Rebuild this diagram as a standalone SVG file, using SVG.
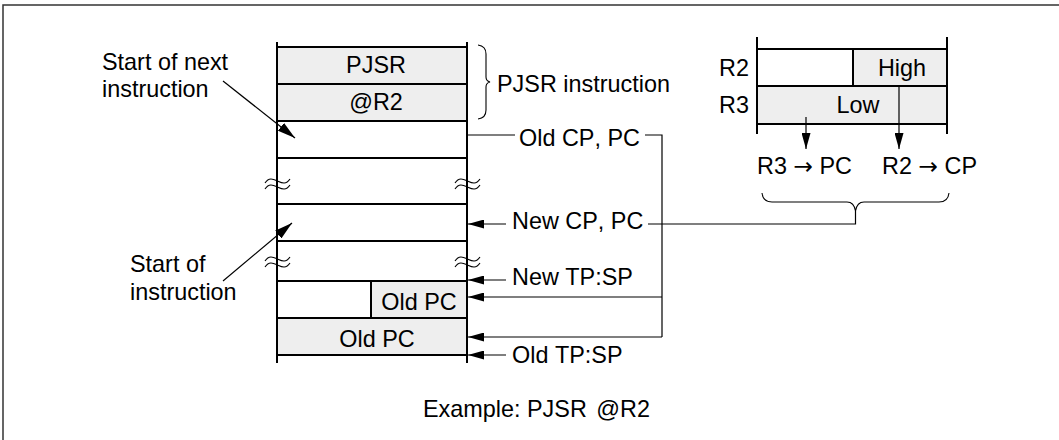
<svg xmlns="http://www.w3.org/2000/svg" width="1059" height="440" viewBox="0 0 1059 440">
  <style>
    text { font-family: "Liberation Sans", Arial, sans-serif; font-size: 23.4px; fill: #000; font-kerning: none; }
    .arrowglyph { font-family: "DejaVu Sans", sans-serif; }
    .mid { text-anchor: middle; }
    .end { text-anchor: end; }
    .gray { fill: #eeeeee; }
    .thick { stroke: #000; stroke-width: 2; fill: none; }
    .thin { stroke: #000; stroke-width: 1.2; fill: none; }
    .brace { stroke: #000; stroke-width: 1.1; fill: none; }
    .arr { marker-end: url(#ah); }
    .arrd { marker-end: url(#ahBig); }
  </style>
  <defs>
    <marker id="ah" markerUnits="userSpaceOnUse" viewBox="0 0 16 9" refX="16" refY="4.5" markerWidth="16" markerHeight="9" orient="auto">
      <path d="M0,0 L16,4.5 L0,9 z" fill="#000"/>
    </marker>
    <marker id="ahBig" markerUnits="userSpaceOnUse" viewBox="0 0 18 10" refX="18" refY="5" markerWidth="18" markerHeight="10" orient="auto">
      <path d="M0,0 L18,5 L0,10 z" fill="#000"/>
    </marker>
  </defs>
  <rect width="1059" height="440" fill="#ffffff"/>
  <path d="M3,440 L3,5 L1059,5" stroke="#333" stroke-width="1.5" fill="none"/>

  <!-- Memory stack -->
  <g id="stack">
    <rect class="gray" x="277" y="47" width="190" height="37"/>
    <rect class="gray" x="277" y="84" width="190" height="37"/>
    <rect class="gray" x="371" y="281" width="96" height="37"/>
    <rect class="gray" x="277" y="318" width="190" height="37"/>
    <g class="thick">
      <path d="M277,42 V363 M467,42 V363"/>
      <path d="M277,47 H467 M277,84 H467 M277,121 H467 M277,158 H467 M277,204 H467 M277,241 H467 M277,281 H467 M277,318 H467 M277,355 H467"/>
      <path d="M371,281 V318"/>
    </g>
    <g class="brace">
      <path d="M265,183 C269,177 273,179 277.5,181 S286,185 290,179"/>
      <path d="M265,189 C269,183 273,185 277.5,187 S286,191 290,185"/>
      <path d="M455,183 C459,177 463,179 467.5,181 S476,185 480,179"/>
      <path d="M455,189 C459,183 463,185 467.5,187 S476,191 480,185"/>
      <path d="M265,261 C269,255 273,257 277.5,259 S286,263 290,257"/>
      <path d="M265,267 C269,261 273,263 277.5,265 S286,269 290,263"/>
      <path d="M455,261 C459,255 463,257 467.5,259 S476,263 480,257"/>
      <path d="M455,267 C459,261 463,263 467.5,265 S476,269 480,263"/>
    </g>
  </g>
  <g id="cell-pjsr"><text class="mid" x="376" y="73">PJSR</text></g>
  <g id="cell-r2"><text class="mid" x="376" y="110">@R2</text></g>
  <g id="cell-oldpc-1"><text class="mid" x="419" y="310">Old PC</text></g>
  <g id="cell-oldpc-2"><text class="mid" x="377" y="347">Old PC</text></g>

  <!-- Left labels -->
  <g id="label-start-next">
    <text x="102" y="70">Start of next</text>
    <text x="102" y="97">instruction</text>
  </g>
  <g id="label-start">
    <text x="130" y="272">Start of</text>
    <text x="130" y="300">instruction</text>
  </g>

  <!-- PJSR instruction brace -->
  <g id="label-pjsr-instr">
    <path class="brace" d="M478,45 Q486,46 486,54 L486,77 Q486,81 490,82 Q486,83 486,87 L486,110 Q486,118 478,119"/>
    <text x="497" y="92">PJSR instruction</text>
  </g>

  <!-- Pointer labels -->
  <g id="label-oldcp"><text x="519" y="146">Old CP, PC</text></g>
  <g id="label-newcp"><text x="512" y="229">New CP, PC</text></g>
  <g id="label-newtp"><text x="512" y="285">New TP:SP</text></g>
  <g id="label-oldtp"><text x="512" y="363">Old TP:SP</text></g>

  <!-- Registers -->
  <g id="registers">
    <rect class="gray" x="853" y="49" width="94" height="37"/>
    <rect class="gray" x="757" y="86" width="190" height="38"/>
    <g class="thick">
      <path d="M757,37 V134 M947,37 V134"/>
      <path d="M757,49 H947 M757,86 H947 M757,124 H947 M853,49 V86"/>
    </g>
    <text class="end" x="749" y="76">R2</text>
    <text class="end" x="749" y="113">R3</text>
    <text class="mid" x="902" y="76">High</text>
    <text class="mid" x="858" y="113">Low</text>
  </g>
  <g id="label-transfer">
    <text x="757" y="174">R3 <tspan class="arrowglyph">→</tspan> PC</text>
    <text x="882" y="174">R2 <tspan class="arrowglyph">→</tspan> CP</text>
    <path class="brace" d="M762,193 Q763,202 772,202 L847,202 Q854,202 855.5,211 Q857,202 864,202 L939,202 Q948,202 949,193"/>
  </g>

  <g id="label-example"><text x="423" y="417">Example: PJSR <tspan dx="3">@R2</tspan></text></g>

  <!-- Connectors -->
  <g id="connectors">
    <line class="thin arrd" x1="223" y1="81" x2="295" y2="138"/>
    <line class="thin arrd" x1="223" y1="281" x2="292" y2="223"/>
    <path class="thin" d="M467,135 H515"/>
    <path class="thin" d="M645,135 H662 V337"/>
    <line class="thin arr" x1="662" y1="297" x2="468" y2="297"/>
    <line class="thin arr" x1="662" y1="337" x2="468" y2="337"/>
    <line class="thin arr" x1="506" y1="224" x2="468" y2="224"/>
    <line class="thin arr" x1="506" y1="280" x2="468" y2="280"/>
    <line class="thin arr" x1="506" y1="355" x2="468" y2="355"/>
    <path class="thin" d="M648,224 H855.5 V211"/>
    <line class="thin arr" x1="806" y1="117" x2="806" y2="149"/>
    <line class="thin arr" x1="899" y1="86" x2="899" y2="149"/>
  </g>
</svg>
